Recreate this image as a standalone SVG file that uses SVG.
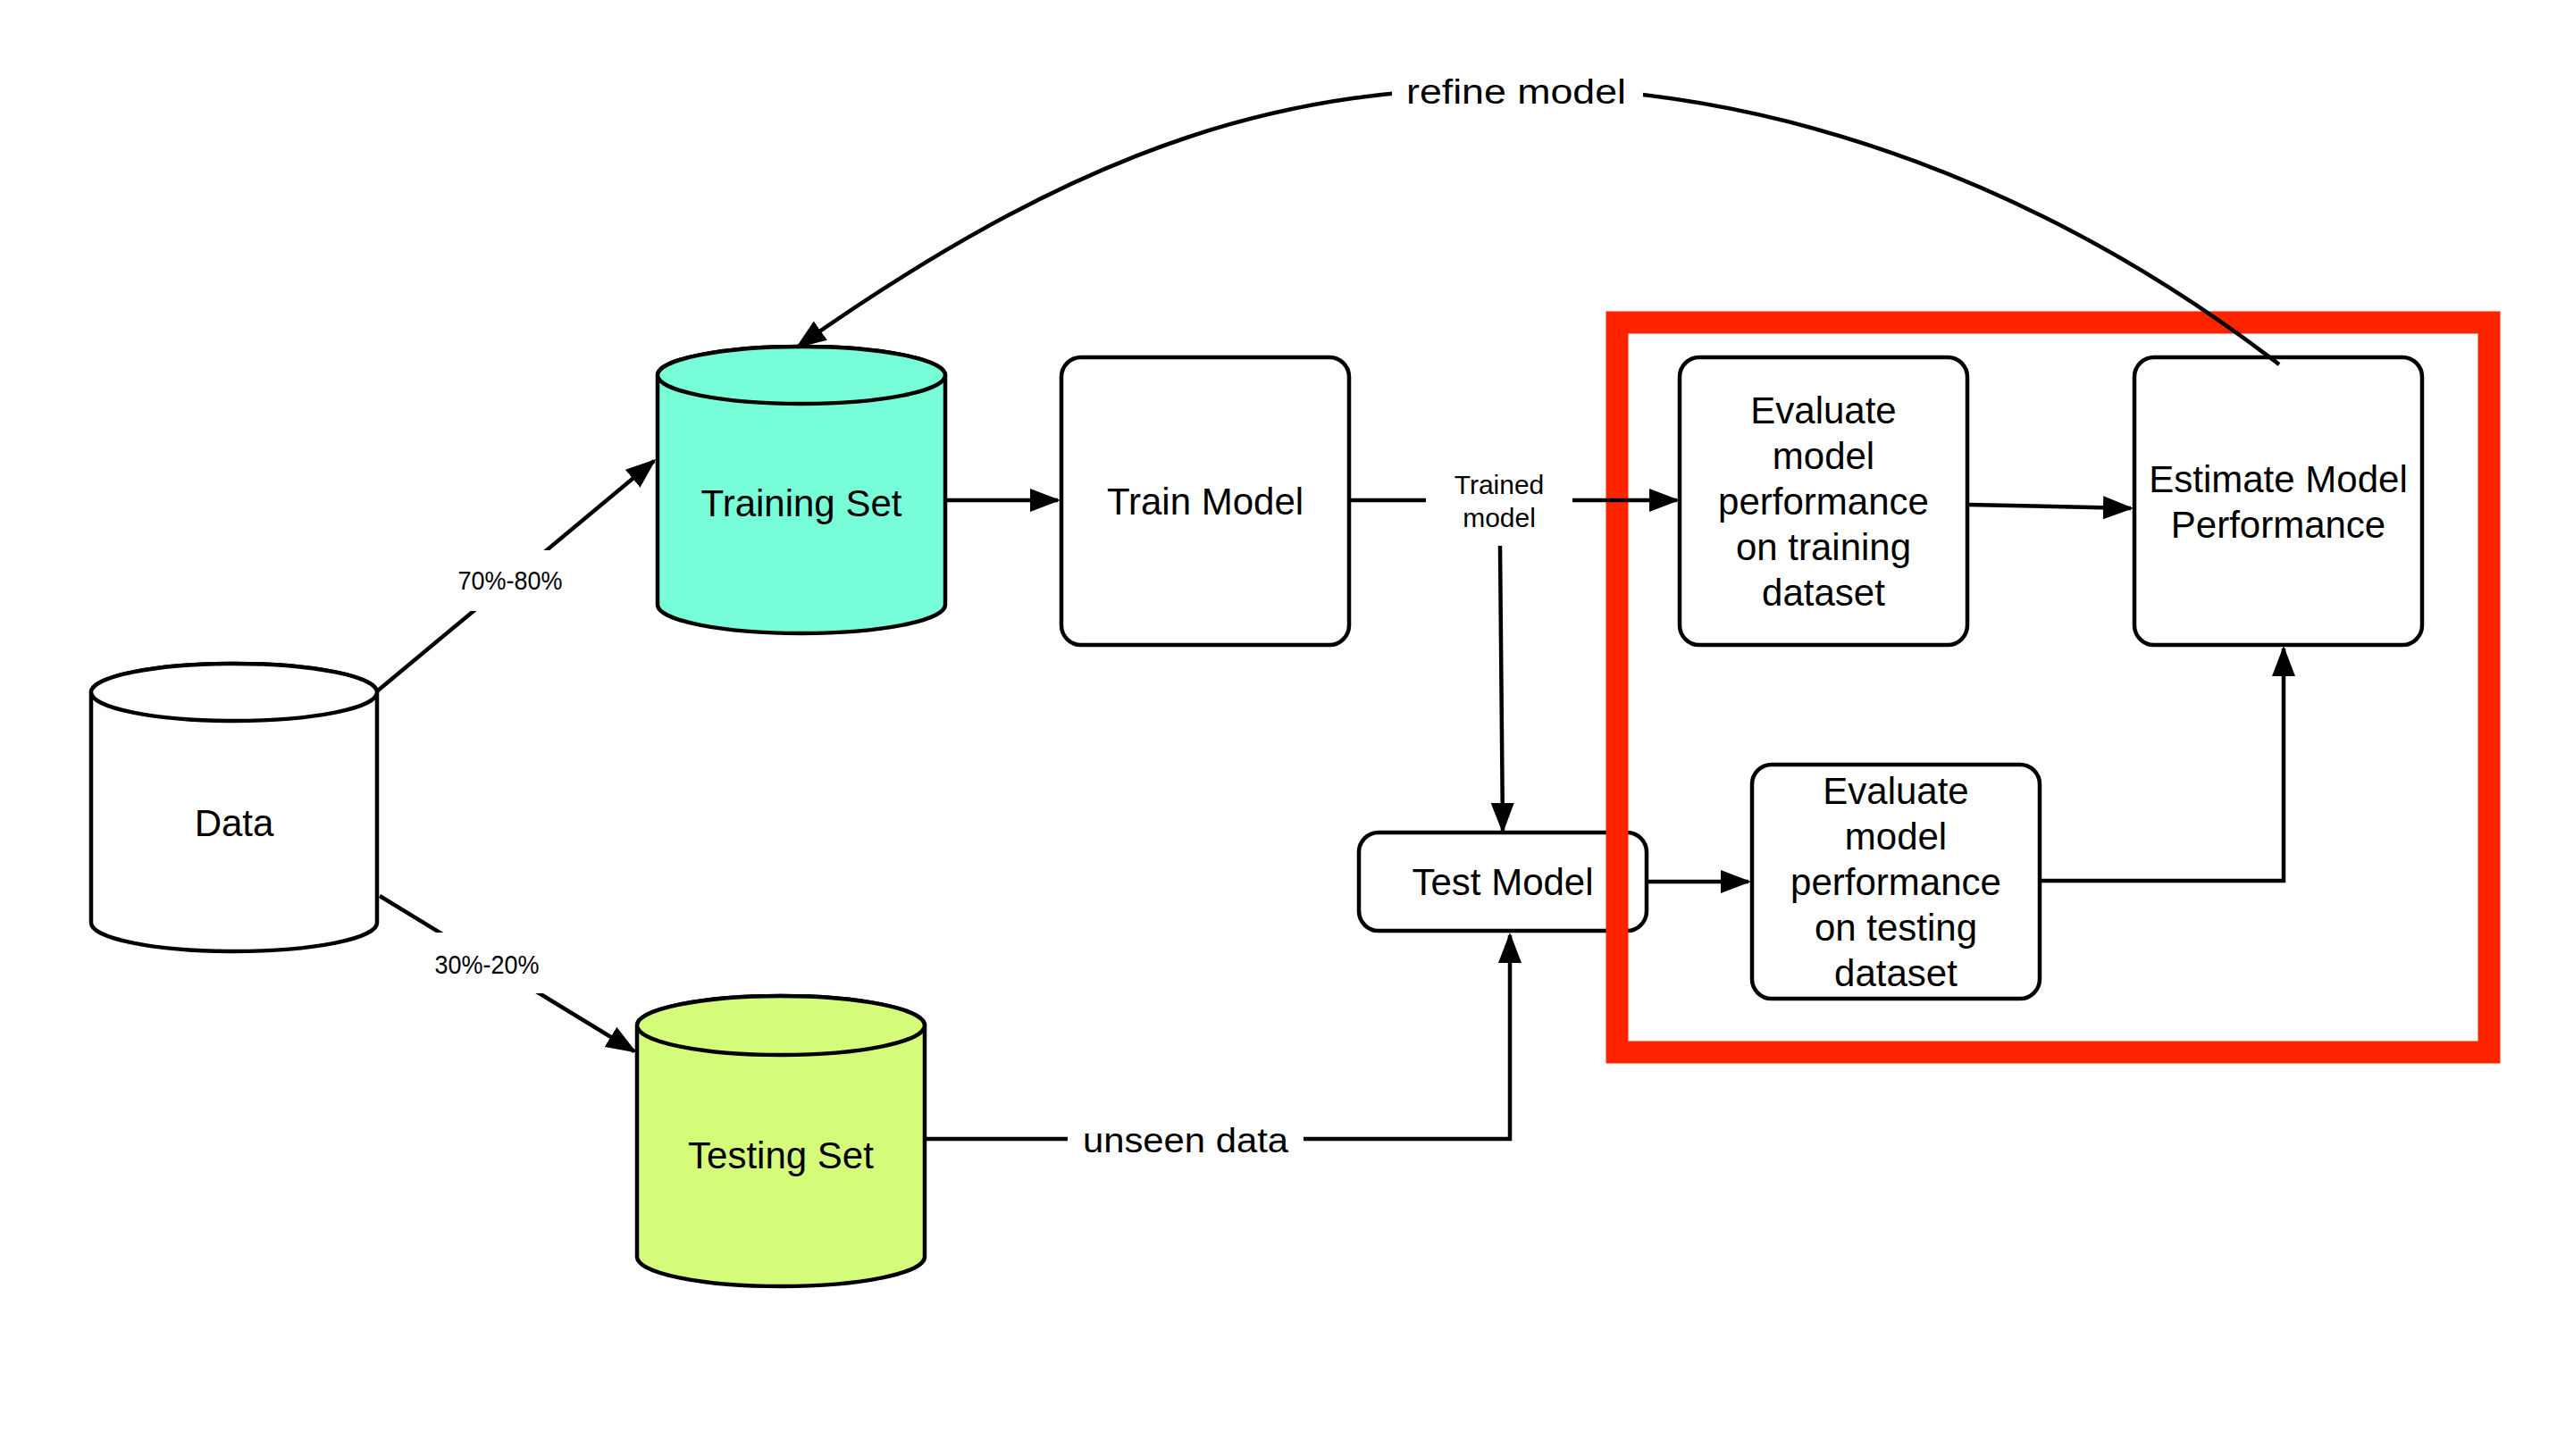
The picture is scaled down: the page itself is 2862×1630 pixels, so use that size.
<svg xmlns="http://www.w3.org/2000/svg" width="2862" height="1630" viewBox="0 0 2862 1630">
<defs>
<style>
.node{stroke:#000;stroke-width:4.5}
.box{fill:#fff;stroke:#000;stroke-width:4.5}
.t{font-family:"Liberation Sans",Arial,sans-serif;font-size:42px;fill:#000;text-anchor:middle}
.el{font-family:"Liberation Sans",Arial,sans-serif;font-size:30px;fill:#000;text-anchor:middle}
.edge{fill:none;stroke:#000;stroke-width:4.5}
.lbg{fill:#fff;stroke:none}
</style>
<marker id="arr" markerUnits="userSpaceOnUse" markerWidth="34" markerHeight="26" refX="31" refY="13" orient="auto">
<path d="M0,0 L34,13 L0,26 z" fill="#000"/>
</marker>
</defs>
<rect width="2862" height="1630" fill="#fff"/>

<g id="data">
<path class="node" fill="#fff" d="M102,775 L102,1033 A160,32 0 0 0 422,1033 L422,775 A160,32 0 0 0 102,775 Z"/>
<ellipse class="node" fill="#fff" cx="262" cy="775" rx="160" ry="32"/>
<text class="t" x="262" y="936">Data</text>
</g>

<g id="training-set">
<path class="node" fill="#77fdd8" d="M736,420 L736,677 A161,32 0 0 0 1058,677 L1058,420 A161,32 0 0 0 736,420 Z"/>
<ellipse class="node" fill="#77fdd8" cx="897" cy="420" rx="161" ry="32"/>
<text class="t" x="897" y="578">Training Set</text>
</g>

<g id="testing-set">
<path class="node" fill="#d5fb7a" d="M713,1148 L713,1407 A161,33 0 0 0 1035,1407 L1035,1148 A161,33 0 0 0 713,1148 Z"/>
<ellipse class="node" fill="#d5fb7a" cx="874" cy="1148" rx="161" ry="33"/>
<text class="t" x="874" y="1308">Testing Set</text>
</g>

<g id="train-model">
<rect class="box" x="1188" y="400" width="322" height="322" rx="22"/>
<text class="t" x="1349" y="576">Train Model</text>
</g>

<g id="test-model">
<rect class="box" x="1521" y="932" width="322" height="110" rx="22"/>
<text class="t" x="1682" y="1002">Test Model</text>
</g>

<g id="eval-training">
<rect class="box" x="1880" y="400" width="322" height="322" rx="22"/>
<text class="t" x="2041" y="474">Evaluate</text>
<text class="t" x="2041" y="525">model</text>
<text class="t" x="2041" y="576">performance</text>
<text class="t" x="2041" y="627">on training</text>
<text class="t" x="2041" y="678">dataset</text>
</g>

<g id="estimate">
<rect class="box" x="2389" y="400" width="322" height="322" rx="22"/>
<text class="t" x="2550" y="551">Estimate Model</text>
<text class="t" x="2550" y="602">Performance</text>
</g>

<g id="eval-testing">
<rect class="box" x="1961" y="856" width="322" height="262" rx="22"/>
<text class="t" x="2122" y="900">Evaluate</text>
<text class="t" x="2122" y="951">model</text>
<text class="t" x="2122" y="1002">performance</text>
<text class="t" x="2122" y="1053">on testing</text>
<text class="t" x="2122" y="1104">dataset</text>
</g>

<g id="highlight">
<rect x="1810" y="361" width="976" height="817" fill="none" stroke="#ff2400" stroke-width="25"/>
</g>

<g id="connectors">
<path class="edge" d="M423,773 L732,516" marker-end="url(#arr)"/>
<rect class="lbg" x="505" y="616" width="132" height="68"/>
<text class="el" x="571" y="660" textLength="117" lengthAdjust="spacingAndGlyphs">70%-80%</text>

<path class="edge" d="M425,1003 L710,1177" marker-end="url(#arr)"/>
<rect class="lbg" x="480" y="1044" width="132" height="68"/>
<text class="el" x="545" y="1090" textLength="117" lengthAdjust="spacingAndGlyphs">30%-20%</text>

<path class="edge" d="M1058,560 L1184,560" marker-end="url(#arr)"/>

<path class="edge" d="M1510,560 L1877,560" marker-end="url(#arr)"/>
<path class="edge" d="M1679,611 L1682,930" marker-end="url(#arr)"/>
<rect class="lbg" x="1596" y="511" width="164" height="100"/>
<text class="el" x="1678" y="553">Trained</text>
<text class="el" x="1678" y="590">model</text>

<path class="edge" d="M1843,987 L1957,987" marker-end="url(#arr)"/>
<path class="edge" d="M2203,565 L2385,569" marker-end="url(#arr)"/>
<path class="edge" d="M2283,986 L2556,986 L2556,726" marker-end="url(#arr)"/>

<path class="edge" d="M1035,1275 L1690,1275 L1690,1047" marker-end="url(#arr)"/>
<rect class="lbg" x="1195" y="1245" width="264" height="60"/>
<text class="t" x="1327" y="1290" style="font-size:38px" textLength="230" lengthAdjust="spacingAndGlyphs">unseen data</text>

<path class="edge" d="M2551,408 C2300,215 2000,98 1700,98 C1450,98 1230,150 893,388" marker-end="url(#arr)"/>
<rect class="lbg" x="1558" y="72" width="281" height="60"/>
<text class="t" x="1697" y="116" style="font-size:38px" textLength="246" lengthAdjust="spacingAndGlyphs">refine model</text>
</g>
</svg>
